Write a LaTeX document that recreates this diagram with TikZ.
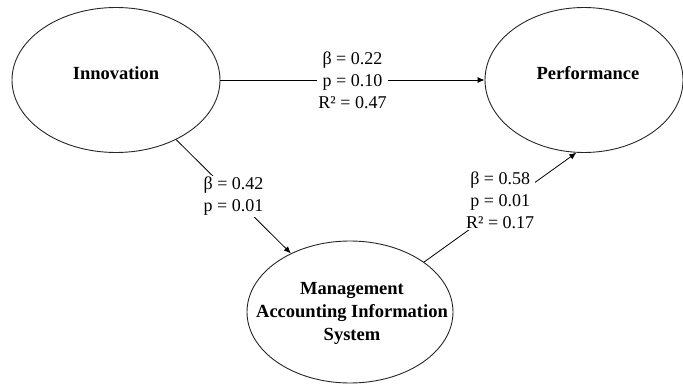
\documentclass[tikz,border=0pt]{standalone}
\usepackage{fontspec}
\setmainfont{Liberation Serif}
\usetikzlibrary{shapes.geometric,arrows.meta}
\begin{document}
\begin{tikzpicture}[x=1pt,y=-1pt,
  construct/.style={ellipse, draw=black!85, line width=0.9pt, inner sep=0pt},
  title/.style={font=\fontsize{18.5}{23}\selectfont\bfseries, align=center},
  coef/.style={font=\fontsize{18}{22}\selectfont, align=center, fill=white, inner sep=1pt},
  effect/.style={line width=0.8pt, -{Latex[length=7pt,width=6pt]}}]
\useasboundingbox (0,0) rectangle (683,385);
\node[construct, minimum width=208pt, minimum height=145pt] (inno) at (116,80) {};
\node[construct, minimum width=198pt, minimum height=145pt] (perf) at (584,80) {};
\node[construct, minimum width=206pt, minimum height=142pt] (mais) at (350,312) {};
\node[title] (innotext) at (116,73) {Innovation};
\node[title] (perftext) at (588,73) {Performance};
\node[title] (maistext) at (352,313) {Management\\Accounting Information\\System};
\draw[effect] (inno) -- node[coef] (c1) {β = 0.22\\p = 0.10\\R² = 0.47} (perf);
\draw[effect] (inno) -- node[coef] (c2) {β = 0.42\\p = 0.01} (mais);
\draw[effect] (mais.34) -- node[coef, yshift=7pt] (c3) {β = 0.58\\p = 0.01\\R² = 0.17} (perf.264);
\end{tikzpicture}
\end{document}
